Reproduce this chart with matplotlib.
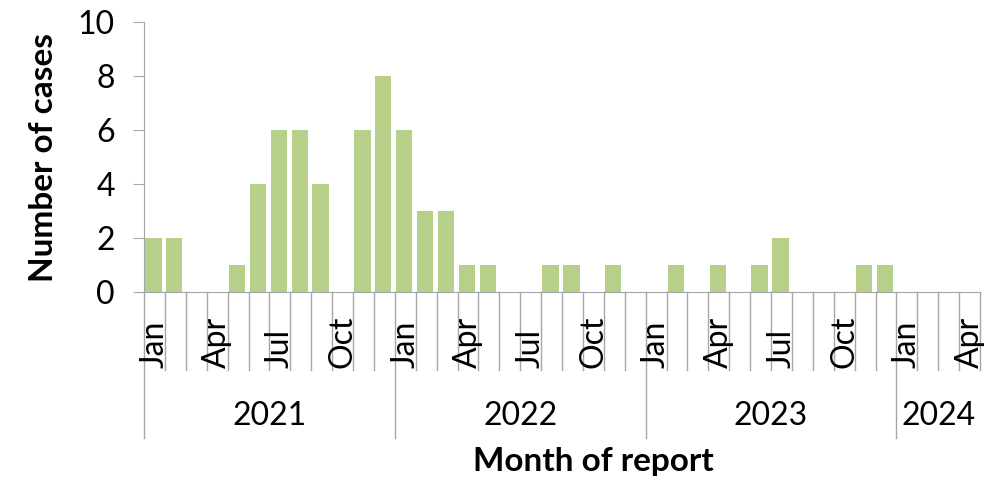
import numpy as np
import matplotlib.pyplot as plt

plt.rcParams['font.family'] = ['Lato', 'DejaVu Sans']

# monthly case counts, Jan 2021 .. Apr 2024
cases_2021 = [2, 2, 0, 0, 1, 4, 6, 6, 4, 0, 6, 8]
cases_2022 = [6, 3, 3, 1, 1, 0, 0, 1, 1, 0, 1, 0]
cases_2023 = [0, 1, 0, 1, 0, 1, 2, 0, 0, 0, 1, 1]
cases_2024 = [0, 0, 0, 0]
years = ['2021', '2022', '2023', '2024']
month_names = ['Jan', 'Feb', 'Mar', 'Apr', 'May', 'Jun',
               'Jul', 'Aug', 'Sep', 'Oct', 'Nov', 'Dec']
shown_months = ['Jan', 'Apr', 'Jul', 'Oct']

counts = cases_2021 + cases_2022 + cases_2023 + cases_2024
year_lengths = [len(cases_2021), len(cases_2022), len(cases_2023), len(cases_2024)]
n = len(counts)
ind = np.arange(n)

grey = '#a6a6a6'
green = '#b7d089'

fig = plt.figure(figsize=(10, 5.01), dpi=100)
ax = fig.add_axes([0.144, 0.417, 0.836, 0.539])

ax.bar(ind - 0.05, counts, 0.78, color=green)

ax.set_xlim(-0.5, n - 0.5)
ax.set_ylim(0, 10)
ax.set_yticks(range(0, 11, 2))
ax.tick_params(axis='y', labelsize=23, length=8, color=grey, pad=13)
ax.set_xticks([])
for s in ['top', 'right']:
    ax.spines[s].set_visible(False)
ax.spines['left'].set_color(grey)
ax.spines['bottom'].set_color(grey)

# pixel -> axes fraction helpers
ax_h = 270.0
def yfrac(px):
    return -(px - 292) / ax_h

trans = ax.get_xaxis_transform()

# month separators and labels
year_starts = list(np.cumsum([0] + year_lengths[:-1]))
for b in range(n + 1):
    if b in year_starts:
        ax.plot([b - 0.5, b - 0.5], [0, yfrac(438)], color=grey, lw=1,
                transform=trans, clip_on=False)
    else:
        ax.plot([b - 0.5, b - 0.5], [0, yfrac(370)], color=grey, lw=1,
                transform=trans, clip_on=False)

i = 0
for y, ln in zip(years, year_lengths):
    for m in range(ln):
        if month_names[m] in shown_months:
            ax.text(i + m, yfrac(368), month_names[m], rotation=90,
                    ha='center', va='bottom', fontsize=23, transform=trans)
    ax.text(i + ln / 2 - 0.5, yfrac(416), y, ha='center', va='center',
            fontsize=23, transform=trans)
    i += ln

ax.set_ylabel('Number of cases', fontsize=24, fontweight='bold')
ax.yaxis.set_label_coords(-0.103, 0.5)
ax.set_xlabel('Month of report', fontsize=24, fontweight='bold')
ax.xaxis.set_label_coords((593 - 144) / 836, yfrac(447))

fig.savefig('out.png', dpi=100)
